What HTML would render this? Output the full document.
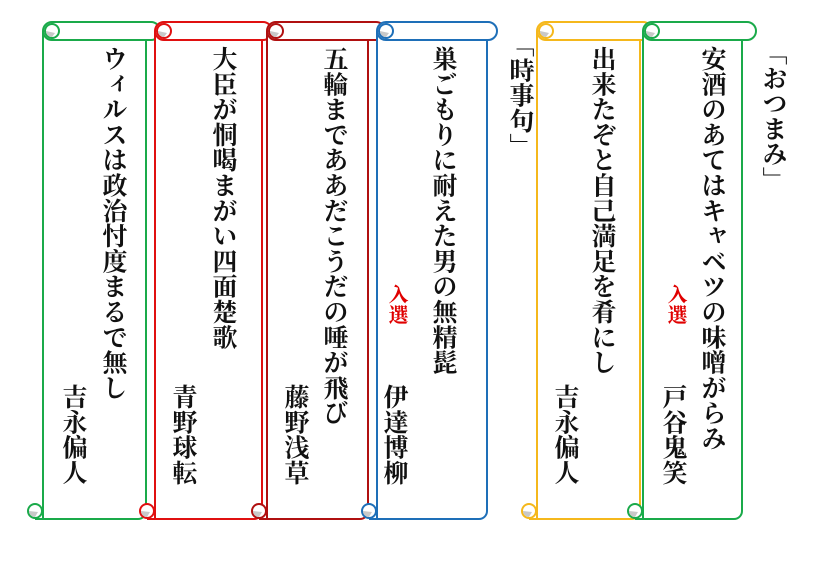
<!DOCTYPE html>
<html><head><meta charset="utf-8"><style>
body{margin:0;width:819px;height:563px;background:#fff;position:relative;overflow:hidden;font-family:"Liberation Serif","Noto Serif CJK SC",serif;}
svg{position:absolute;left:0;top:0}
.v{position:absolute;writing-mode:vertical-rl;font-size:25px;font-weight:bold;line-height:26px;letter-spacing:0.3px;color:#111;white-space:nowrap}
.r{color:#e00000;font-size:20px}
</style></head><body>
<svg id="s" width="819" height="563"></svg>
<div class="v" style="left:99px;top:46px">ウィルスは政治忖度まるで無し</div>
<div class="v" style="left:59px;top:384px">吉永偏人</div>
<div class="v" style="left:209px;top:46px">大臣が恫喝まがい四面楚歌</div>
<div class="v" style="left:169px;top:384px">青野球転</div>
<div class="v" style="left:320px;top:46px">五輪までああだこうだの唾が飛び</div>
<div class="v" style="left:281px;top:384px">藤野浅草</div>
<div class="v" style="left:429px;top:46px">巣ごもりに耐えた男の無精髭</div>
<div class="v r" style="left:383px;top:284px">入選</div>
<div class="v" style="left:380px;top:384px">伊達博柳</div>
<div class="v" style="left:506px;top:32px">「時事句」</div>
<div class="v" style="left:588px;top:46px">出来たぞと自己満足を肴にし</div>
<div class="v" style="left:551px;top:384px">吉永偏人</div>
<div class="v" style="left:698px;top:46px">安酒のあてはキャベツの味噌がらみ</div>
<div class="v r" style="left:662px;top:284px">入選</div>
<div class="v" style="left:659px;top:384px">戸谷鬼笑</div>
<div class="v" style="left:759px;top:40px">「おつまみ」</div>
<script>
var sc=[[43,146,160,'#1aaa4a'],[155,262,272,'#e01010'],[267,368,385,'#b01010'],[377,487,497,'#1e6fb8'],[537,640,652,'#f5b81c'],[643,742,756,'#1aaa4a']];
var h='';
sc.forEach(function(s){var L=s[0],R=s[1],B=s[2],c=s[3];
h+='<rect x="'+L+'" y="31" width="'+(R-L)+'" height="488" fill="#fff"/>';
h+='<path d="M'+(L-8)+',519 H'+(R-8)+' A8,8 0 0 0 '+R+',511 V40" fill="none" stroke="'+c+'" stroke-width="2"/>';
h+='<line x1="'+L+'" y1="31" x2="'+L+'" y2="505" stroke="'+c+'" stroke-width="2"/>';
h+='<path d="M'+(L+9)+',22 H'+(B-9)+' A9,9 0 0 1 '+(B-9)+',40 H'+(L+9)+' A9,9 0 0 1 '+(L+9)+',22 Z" fill="#fff" stroke="'+c+'" stroke-width="2"/>';
var cx=L+9,cy=31;
h+='<circle cx="'+cx+'" cy="'+cy+'" r="7" fill="#fff" stroke="'+c+'" stroke-width="2"/>';
h+='<path d="M'+(cx-6)+','+cy+' A6,6 0 0 0 '+cx+','+(cy+6)+' L'+(cx+3)+','+(cy+2)+' Z" fill="#c8c8c8"/>';
var bx=L-8,by=511;
h+='<circle cx="'+bx+'" cy="'+by+'" r="7" fill="#fff" stroke="'+c+'" stroke-width="2"/>';
h+='<path d="M'+(bx-6)+','+by+' A6,6 0 0 0 '+bx+','+(by+6)+' L'+(bx+3)+','+(by+1)+' Z" fill="#c8c8c8"/>';
h+='<line x1="'+L+'" y1="503" x2="'+L+'" y2="519" stroke="'+c+'" stroke-width="2"/>';
});
document.getElementById('s').innerHTML=h;
</script>
</body></html>
